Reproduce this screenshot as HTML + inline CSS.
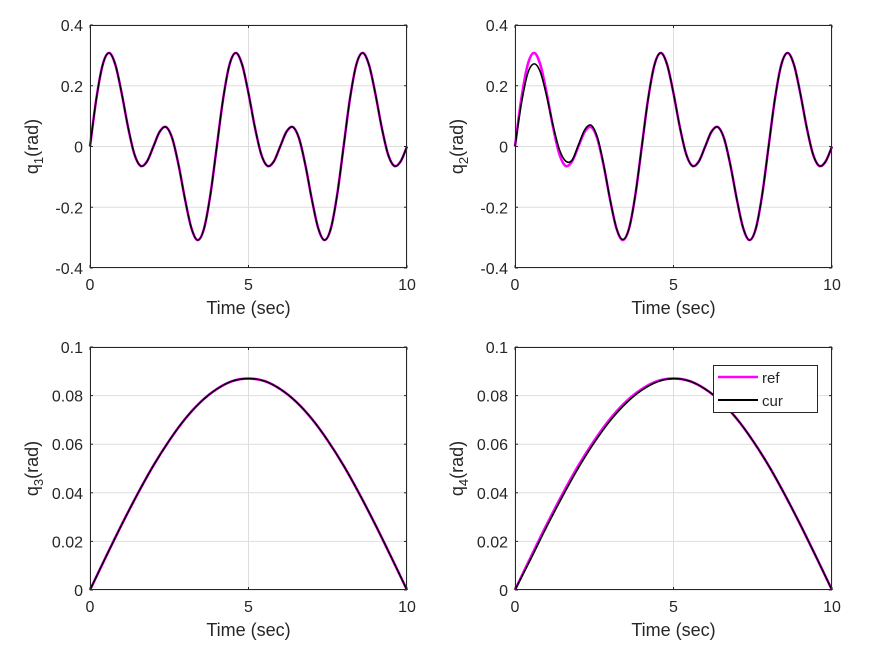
<!DOCTYPE html>
<html><head><meta charset="utf-8"><style>
body{margin:0;background:#fff;}
svg text{font-family:"Liberation Sans",Arial,sans-serif;fill:#262626;}
</style></head><body>
<svg id="fig" width="875" height="656" viewBox="0 0 875 656" xmlns="http://www.w3.org/2000/svg"></svg>
<script>
// ---- data ----
const tFast = [0,0.2,0.4,0.6,0.8,1,1.2,1.4,1.6,1.8,2,2.2,2.4,2.6,2.8,3,3.2,3.4,3.6,3.8,4,4.2,4.4,4.6,4.8,5,5.2,5.4,5.6,5.8,6,6.2,6.4,6.6,6.8,7,7.2,7.4,7.6,7.8,8,8.2,8.4,8.6,8.8,9,9.2,9.4,9.6,9.8,10];
const q1Ref = [0,0.157,0.269,0.308,0.269,0.175,0.064,-0.025,-0.064,-0.049,0,0.049,0.064,0.025,-0.064,-0.175,-0.269,-0.308,-0.269,-0.157,
 0,0.157,0.269,0.308,0.269,0.175,0.064,-0.025,-0.064,-0.049,0,0.049,0.064,0.025,-0.064,-0.175,-0.269,-0.308,-0.269,-0.157,
 0,0.157,0.269,0.308,0.269,0.175,0.064,-0.025,-0.064,-0.049,0];
const q1Cur = q1Ref.slice();
const q2Ref = q1Ref.slice();
const q2Cur = [0,0.14,0.24,0.272,0.245,0.165,0.07,-0.01,-0.048,-0.045,0.005,0.055,0.07,0.03,-0.062,-0.175,-0.269,-0.306,-0.269,-0.157,
 0,0.157,0.269,0.308,0.269,0.175,0.064,-0.025,-0.064,-0.049,0,0.049,0.064,0.025,-0.064,-0.175,-0.269,-0.308,-0.269,-0.157,
 0,0.157,0.269,0.308,0.269,0.175,0.064,-0.025,-0.064,-0.049,0];
const tSlow = [0,0.5,1,1.5,2,2.5,3,3.5,4,4.5,5,5.5,6,6.5,7,7.5,8,8.5,9,9.5,10];
const q3Ref = [0,0.0136,0.0269,0.0395,0.0512,0.0615,0.0704,0.0775,0.0827,0.086,0.087,0.086,0.0827,0.0775,0.0704,0.0615,0.0512,0.0395,0.0269,0.0136,0];
const q3Cur = q3Ref.slice();
const q4Ref = q3Ref.slice();
const q4Cur = [0,0.0128,0.026,0.0385,0.0502,0.0606,0.0696,0.0768,0.0822,0.0857,0.087,0.086,0.0827,0.0775,0.0704,0.0615,0.0512,0.0395,0.0269,0.0136,0];
const xTicks = [0,5,10];
const yTicksTop = [-0.4,-0.2,0,0.2,0.4];
const yTickLabelsTop = ["-0.4","-0.2","0","0.2","0.4"];
const yTicksBot = [0,0.02,0.04,0.06,0.08,0.1];
const yTickLabelsBot = ["0","0.02","0.04","0.06","0.08","0.1"];

const NS="http://www.w3.org/2000/svg";
const svg=document.getElementById('fig');
function mk(tag,attrs,parent){const e=document.createElementNS(NS,tag);for(const k in attrs)e.setAttribute(k,attrs[k]);(parent||svg).appendChild(e);return e;}
function smooth(pts){let d=`M${pts[0][0]},${pts[0][1]}`;for(let i=0;i<pts.length-1;i++){const p0=pts[Math.max(i-1,0)],p1=pts[i],p2=pts[i+1],p3=pts[Math.min(i+2,pts.length-1)];
const c1x=p1[0]+(p2[0]-p0[0])/6,c1y=p1[1]+(p2[1]-p0[1])/6,c2x=p2[0]-(p3[0]-p1[0])/6,c2y=p2[1]-(p3[1]-p1[1])/6;
d+=` C${c1x.toFixed(2)},${c1y.toFixed(2)} ${c2x.toFixed(2)},${c2y.toFixed(2)} ${p2[0].toFixed(2)},${p2[1].toFixed(2)}`;}return d;}

const panels=[
 {name:'q1',x0:90,x1:407,y0:25,y1:268,ymin:-0.4,ymax:0.4,yt:yTicksTop,yl:yTickLabelsTop,t:tFast,ref:q1Ref,cur:q1Cur,sub:'1',lx:32},
 {name:'q2',x0:515,x1:832,y0:25,y1:268,ymin:-0.4,ymax:0.4,yt:yTicksTop,yl:yTickLabelsTop,t:tFast,ref:q2Ref,cur:q2Cur,sub:'2',lx:457},
 {name:'q3',x0:90,x1:407,y0:347,y1:590,ymin:0,ymax:0.1,yt:yTicksBot,yl:yTickLabelsBot,t:tSlow,ref:q3Ref,cur:q3Cur,sub:'3',lx:32},
 {name:'q4',x0:515,x1:832,y0:347,y1:590,ymin:0,ymax:0.1,yt:yTicksBot,yl:yTickLabelsBot,t:tSlow,ref:q4Ref,cur:q4Cur,sub:'4',lx:457,legend:true}
];
panels.forEach(p=>{
 const g=mk('g',{});
 
 
 const X=v=>p.x0+(v-0)/(10-0)*(p.x1-p.x0);
 const Y=v=>p.y1-(v-p.ymin)/(p.ymax-p.ymin)*(p.y1-p.y0);
 mk('rect',{x:p.x0,y:p.y0,width:p.x1-p.x0,height:p.y1-p.y0,fill:'#fff'},g);
 const grid=mk('g',{stroke:'#dedede','stroke-width':1},g);
 
 
 xTicks.forEach(v=>{mk('line',{x1:X(v),x2:X(v),y1:p.y0,y2:p.y1},grid);});
 p.yt.forEach(v=>{mk('line',{x1:p.x0,x2:p.x1,y1:Y(v),y2:Y(v)},grid);});
 const ptsR=p.t.map((t,i)=>[X(t),Y(p.ref[i])]);
 const ptsC=p.t.map((t,i)=>[X(t),Y(p.cur[i])]);
 const lr=mk('path',{d:smooth(ptsR),fill:'none',stroke:'#ff00ff','stroke-width':2.6},g);
 
 
 const lc=mk('path',{d:smooth(ptsC),fill:'none',stroke:'#000','stroke-width':1.6},g);
 
 
 mk('rect',{x:p.x0+0.5,y:p.y0+0.5,width:p.x1-p.x0-1,height:p.y1-p.y0-1,fill:'none',stroke:'#262626','stroke-width':1},g);
 xTicks.forEach(v=>{
  mk('line',{x1:X(v),x2:X(v),y1:p.y1,y2:p.y1-3,stroke:'#262626'},g);
  mk('line',{x1:X(v),x2:X(v),y1:p.y0,y2:p.y0+3,stroke:'#262626'},g);
  const tx=mk('text',{x:X(v),y:p.y1+22,'text-anchor':'middle','font-size':16},g);tx.textContent=String(v);
  
  
 });
 p.yt.forEach((v,i)=>{
  mk('line',{x1:p.x0,x2:p.x0+3,y1:Y(v),y2:Y(v),stroke:'#262626'},g);
  mk('line',{x1:p.x1,x2:p.x1-3,y1:Y(v),y2:Y(v),stroke:'#262626'},g);
  const ty=mk('text',{x:p.x0-7,y:Y(v)+6,'text-anchor':'end','font-size':16},g);ty.textContent=p.yl[i];
  
  
 });
 const xl=mk('text',{x:(p.x0+p.x1)/2,y:p.y1+46,'text-anchor':'middle','font-size':18},g);xl.textContent='Time (sec)';
 
 
 const cy=(p.y0+p.y1)/2;
 const yl=mk('text',{x:0,y:0,'text-anchor':'middle','font-size':18,transform:`translate(${p.lx+6},${cy}) rotate(-90)`},g);
 
 
 const s1=mk('tspan',{},yl);s1.textContent='q';
 const s2=mk('tspan',{'font-size':13,dy:5},yl);s2.textContent=p.sub;
 const s3=mk('tspan',{dy:-5},yl);s3.textContent='(rad)';
 if(p.legend){
  const lg=mk('g',{},g);
  
  
  mk('rect',{x:713.5,y:365.5,width:104,height:47,fill:'#fff',stroke:'#262626'},lg);
  mk('line',{x1:718,x2:758,y1:377,y2:377,stroke:'#ff00ff','stroke-width':2.6},lg);
  mk('line',{x1:718,x2:758,y1:400,y2:400,stroke:'#000','stroke-width':2},lg);
  const a=mk('text',{x:762,y:383,'font-size':15},lg);a.textContent='ref';
  
  
  const b=mk('text',{x:762,y:406,'font-size':15},lg);b.textContent='cur';
  
  
 }
});
</script>
</body></html>
